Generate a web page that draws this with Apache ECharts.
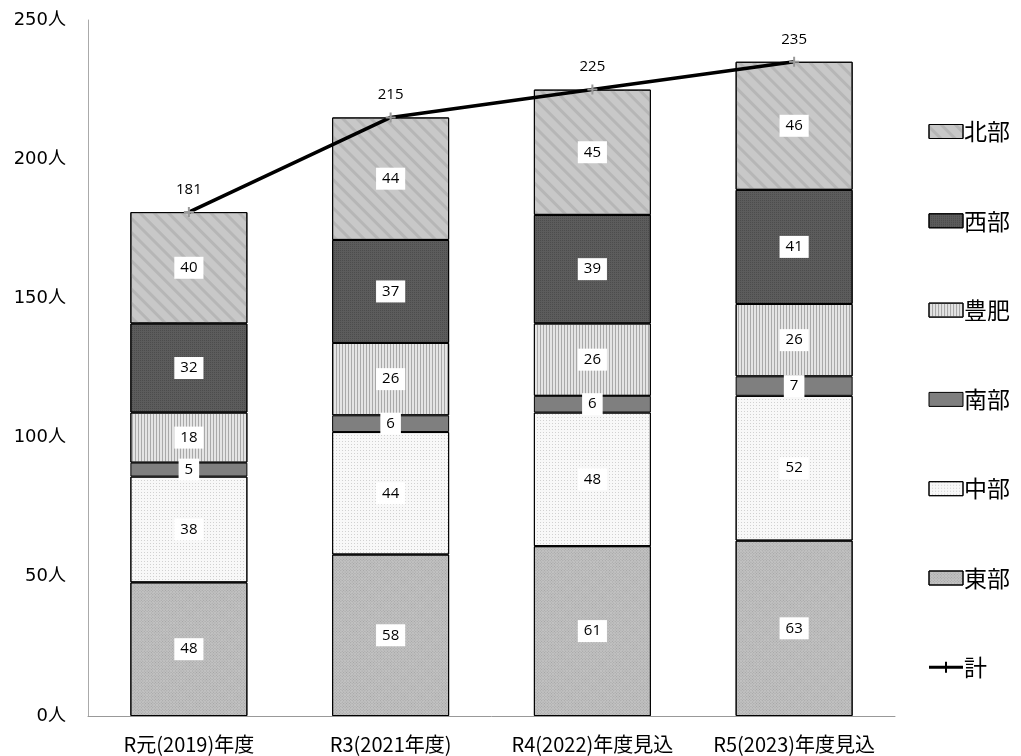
<!DOCTYPE html>
<html><head><meta charset="utf-8">
<script src="https://cdn.jsdelivr.net/npm/echarts@6/dist/echarts.min.js"></script>
<style>html,body{margin:0;padding:0;background:#fff}#c{width:1021px;height:756px}</style>
</head><body><div id="c"></div>
<script>
const categories = ['R元(2019)年度', 'R3(2021年度)', 'R4(2022)年度見込', 'R5(2023)年度見込'];
const higashi = [48, 58, 61, 63];
const chubu = [38, 44, 48, 52];
const nanbu = [5, 6, 6, 7];
const houhi = [18, 26, 26, 26];
const seibu = [32, 37, 39, 41];
const hokubu = [40, 44, 45, 46];
const total = [181, 215, 225, 235];
const yTicks = [0, 50, 100, 150, 200, 250];

const FONT = '"Noto Sans CJK JP", "Noto Sans", sans-serif';
const lbl = {
  show: true, position: 'inside', color: '#000', fontSize: 15, fontFamily: '"Open Sans", "Noto Sans", sans-serif',
  backgroundColor: '#fff', padding: [4, 6, 3, 6]
};
function bar(name, data, color, decal) {
  return {
    name, type: 'bar', stack: 'a', data, barWidth: 117,
    itemStyle: { color, borderColor: '#000', borderWidth: 1, decal },
    label: lbl, emphasis: { disabled: true }
  };
}
const chart = echarts.init(document.getElementById('c'));
chart.setOption({
  animation: false,
  backgroundColor: '#fff',
  grid: { left: 88, right: 126, top: 20, bottom: 40, containLabel: false },
  legend: {
    orient: 'vertical', right: 6, top: 115, itemWidth: 34, itemHeight: 14, itemGap: 66.3,
    icon: 'rect',
    itemStyle: { borderColor: '#000', borderWidth: 1 },
    data: ['北部', '西部', '豊肥', '南部', '中部', '東部', {name: '計', icon: 'path://M0,4 L34,4 L34,7 L0,7 Z M16,0 L18,0 L18,11 L16,11 Z', itemStyle: { color: '#000', borderWidth: 0 }}],
    textStyle: { fontSize: 23, color: '#000', fontFamily: FONT, padding: [0, 0, 0, -4] }
  },
  xAxis: {
    type: 'category', data: categories,
    axisLine: { lineStyle: { color: '#999' } }, axisTick: { show: false },
    axisLabel: { color: '#000', fontSize: 20, fontFamily: FONT, margin: 18, interval: 0 }
  },
  yAxis: {
    type: 'value', min: 0, max: 250, interval: 50,
    axisLine: { show: true, lineStyle: { color: '#aaa' } }, axisTick: { show: false },
    splitLine: { show: false },
    axisLabel: { color: '#000', fontSize: 18, fontFamily: '"DejaVu Sans", "Noto Sans CJK JP", sans-serif', margin: 22,
      formatter: v => yTicks.includes(v) ? v + '人' : '' }
  },
  series: [
    bar('東部', higashi, '#c2c2c2', { symbol: 'rect', color: 'rgba(90,90,90,0.3)', dashArrayX: [1, 1], dashArrayY: [1, 1], symbolSize: 1, rotation: Math.PI / 4 }),
    bar('中部', chubu, '#f8f8f8', { symbol: 'rect', color: 'rgba(120,120,120,0.3)', dashArrayX: [1, 2], dashArrayY: [1, 2], symbolSize: 1 }),
    bar('南部', nanbu, '#7f7f7f', null),
    bar('豊肥', houhi, '#e4e4e4', { symbol: 'rect', color: 'rgba(110,110,110,0.5)', dashArrayX: [1, 2], dashArrayY: [10, 0], symbolSize: 1 }),
    bar('西部', seibu, '#5c5c5c', { symbol: 'rect', color: 'rgba(40,40,40,0.3)', dashArrayX: [1, 1], dashArrayY: [1, 1], symbolSize: 1 }),
    bar('北部', hokubu, '#c8c8c8', { symbol: 'rect', color: 'rgba(150,150,150,0.35)', dashArrayX: [1, 0], dashArrayY: [3, 7], symbolSize: 1, rotation: Math.PI / 4 }),
    {
      name: '計', type: 'line', data: total, z: 5,
      symbol: 'path://M4,0 L6,0 L6,4 L10,4 L10,6 L6,6 L6,10 L4,10 L4,6 L0,6 L0,4 L4,4 Z',
      symbolSize: 10,
      itemStyle: { color: '#999' },
      lineStyle: { color: '#000', width: 3.5 },
      label: { show: true, position: 'top', distance: 10, color: '#000', fontSize: 15, fontFamily: '"Open Sans", "Noto Sans", sans-serif' },
      emphasis: { disabled: true }
    }
  ]
});
</script></body></html>
